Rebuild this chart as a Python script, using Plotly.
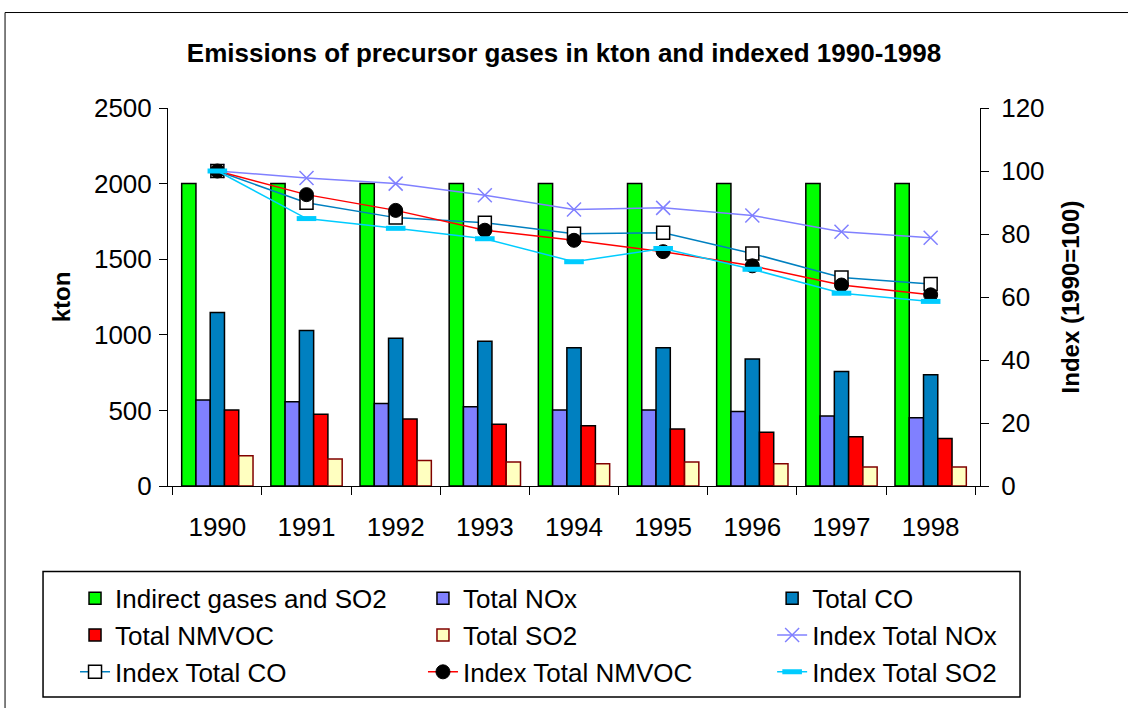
import plotly.graph_objects as go

years = ["1990", "1991", "1992", "1993", "1994", "1995", "1996", "1997", "1998"]

# kton (left axis)
indirect_gases = [2000, 2000, 2000, 2000, 2000, 2000, 2000, 2000, 2000]
total_nox = [568, 557, 546, 524, 502, 502, 493, 463, 452]
total_co = [1147, 1028, 978, 958, 914, 914, 840, 757, 735]
total_nmvoc = [502, 474, 443, 408, 399, 377, 355, 325, 314]
total_so2 = [200, 178, 169, 158, 147, 158, 147, 125, 125]

# index 1990=100 (right axis)
index_nox = [100, 97.8, 96.0, 92.3, 87.8, 88.3, 85.9, 80.7, 78.8]
index_co = [100, 89.9, 85.2, 83.6, 80.1, 80.4, 73.8, 66.2, 64.1]
index_nmvoc = [100, 92.5, 87.5, 81.2, 78.0, 74.4, 69.9, 63.8, 60.7]
index_so2 = [100, 84.9, 81.8, 78.5, 71.2, 75.4, 68.8, 61.2, 58.6]

FONT = "Liberation Sans, Arial, sans-serif"

fig = go.Figure()

# legend column for each trace: the reference legend is a 3-column grid
bars = [
    ("Indirect gases and SO2", indirect_gases, "#00FF00", "#000000", "legend"),
    ("Total NOx", total_nox, "#8080FF", "#000000", "legend2"),
    ("Total CO", total_co, "#0080C0", "#000000", "legend3"),
    ("Total NMVOC", total_nmvoc, "#FF0000", "#000000", "legend"),
    ("Total SO2", total_so2, "#FFFFC0", "#800000", "legend2"),
]
for name, vals, color, edge, leg in bars:
    fig.add_trace(go.Bar(
        x=years, y=vals, name=name, legend=leg,
        marker=dict(color=color, line=dict(color=edge, width=1.5)),
    ))

lines = [
    ("Index Total NOx", index_nox, "#8080FF", "legend3",
     dict(symbol="x-thin", size=14, color="#8080FF", line=dict(color="#8080FF", width=1.5))),
    ("Index Total CO", index_co, "#0080C0", "legend",
     dict(symbol="square", size=13, color="white", line=dict(color="black", width=1.5))),
    ("Index Total NMVOC", index_nmvoc, "#FF0000", "legend2",
     dict(symbol="circle", size=14, color="black", line=dict(color="black", width=1))),
    ("Index Total SO2", index_so2, "#00CCFF", "legend3",
     dict(symbol="line-ew", size=14, color="#00CCFF", line=dict(color="#00CCFF", width=5))),
]
for name, vals, color, leg, marker in lines:
    fig.add_trace(go.Scatter(
        x=years, y=vals, name=name, yaxis="y2", mode="lines+markers", legend=leg,
        line=dict(color=color, width=1.5), marker=marker,
    ))


def _legend(x):
    return dict(
        x=x, y=-0.235, xanchor="left", yanchor="top",
        borderwidth=0, bgcolor="rgba(0,0,0,0)",
        font=dict(size=26), traceorder="normal", tracegroupgap=0,
    )


fig.update_layout(
    width=1128, height=708,
    margin=dict(l=168, r=148, t=108, b=220),
    paper_bgcolor="white", plot_bgcolor="white",
    font=dict(family=FONT, size=26, color="black"),
    title=dict(text="<b>Emissions of precursor gases in kton and indexed 1990-1998</b>",
               x=0.5, xanchor="center", y=0.925, yanchor="middle",
               font=dict(size=26)),
    barmode="group", bargap=0.2, bargroupgap=0,
    showlegend=True,
    legend=_legend(-0.1145),
    legend2=_legend(0.314),
    legend3=_legend(0.744),
    xaxis=dict(
        type="category", showline=True, linecolor="black", linewidth=1,
        ticks="outside", tickson="boundaries", ticklen=8, tickcolor="black",
        showgrid=False, tickfont=dict(size=26), ticklabelstandoff=18,
    ),
    yaxis=dict(
        range=[0, 2500], dtick=500, showline=True, linecolor="black", linewidth=1,
        ticks="outside", ticklen=8, tickcolor="black", showgrid=False,
        tickfont=dict(size=26), ticklabelstandoff=2,
        title=dict(text="<b>kton</b>", font=dict(size=24), standoff=16),
    ),
    yaxis2=dict(
        range=[0, 120], dtick=20, overlaying="y", side="right",
        showline=True, linecolor="black", linewidth=1,
        ticks="outside", ticklen=8, tickcolor="black", showgrid=False,
        tickfont=dict(size=26), ticklabelstandoff=7,
        title=dict(text="<b>Index (1990=100)</b>", font=dict(size=24), standoff=18),
    ),
    shapes=[
        # outer chart frame
        dict(type="rect", xref="paper", yref="paper",
             x0=-0.2007, x1=1.3, y0=-1.0, y1=1.2526,
             line=dict(color="black", width=1), layer="below"),
        # legend box
        dict(type="rect", xref="paper", yref="paper",
             x0=-0.1539, x1=1.0493, y0=-0.5579, y1=-0.2263,
             line=dict(color="black", width=1.5), layer="below"),
    ],
)

# page body has an 8px default margin; drop it so the figure sits at 0,0
fig.write_html("out.html", config={"displayModeBar": False},
               post_script="document.body.style.margin='0';")
